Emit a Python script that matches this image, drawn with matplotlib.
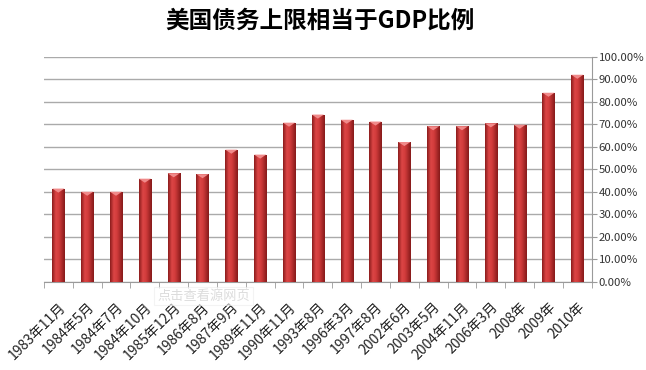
import numpy as np
import matplotlib; matplotlib.use("Agg")
import matplotlib.pyplot as plt
from matplotlib.colors import LinearSegmentedColormap
from matplotlib.ticker import FuncFormatter, MultipleLocator

plt.rcParams['font.family'] = ['Noto Sans CJK SC', 'DejaVu Sans']

# ---- data
dates = ["1983年11月", "1984年5月", "1984年7月", "1984年10月", "1985年12月",
         "1986年8月", "1987年9月", "1989年11月", "1990年11月", "1993年8月",
         "1996年3月", "1997年8月", "2002年6月", "2003年5月", "2004年11月",
         "2006年3月", "2008年", "2009年", "2010年"]
ratio = [41.5, 40.1, 40.1, 45.9, 48.3, 47.9, 58.8, 56.6, 70.8, 74.4,
         72.1, 71.3, 62.2, 69.2, 69.2, 70.5, 69.9, 84.1, 92.1]
title = "美国债务上限相当于GDP比例"

# cylinder-ish shading across each bar
shade = LinearSegmentedColormap.from_list(
    "bar", [(0, "#8c1c1c"), (0.3, "#dc4646"), (0.55, "#d13b3b"), (1, "#861a1a")])
grad = np.linspace(0, 1, 64)[None, :]

fig = plt.figure(figsize=(6.46, 3.70), dpi=100)
ax = fig.add_axes([0.068, 0.238, 0.848, 0.608])
x = np.arange(len(dates)); W = 0.42
bars = ax.bar(x, ratio, width=W, color="#b82c2c", zorder=2, linewidth=0)
for b in bars:
    x0, h = b.get_x(), b.get_height()
    im = ax.imshow(grad, extent=[x0, x0 + W, 0, h], aspect="auto", cmap=shade, zorder=3)
    im.set_clip_path(b)
    # light bevel on the top
    ax.fill([x0, x0 + W, x0 + W / 2], [h, h, h - 1.8], color="#f08a8a", zorder=4, lw=0)

ax.set_xlim(-0.5, len(dates) - 0.5); ax.set_ylim(0, 100)
ax.yaxis.set_major_locator(MultipleLocator(10))
ax.yaxis.set_major_formatter(FuncFormatter(lambda v, _: f"{v:.2f}%"))
ax.yaxis.tick_right()
ax.grid(axis="y", color="#aaaaaa", lw=1, zorder=1)
for s in ("top", "left"): ax.spines[s].set_visible(False)
for s in ("bottom", "right"): ax.spines[s].set_color("#9a9a9a")
ax.tick_params(axis="y", length=3.5, color="#9a9a9a", labelsize=8.2, labelcolor="#333333", pad=1.5)
ax.set_xticks(x)
ax.set_xticklabels(dates, rotation=45, ha="right", va="top", rotation_mode="anchor",
                   fontsize=10, color="#222222")
ax.tick_params(axis="x", length=0, pad=13)
ax.set_xticks(np.arange(len(dates) + 1) - 0.5, minor=True)
ax.tick_params(axis="x", which="minor", length=4, color="#9a9a9a")

fig.text(0.495, 0.945, title, ha="center", va="center", fontsize=17, fontweight="bold")
# faint watermark box from the source page
fig.text(0.315, 0.2, "点击查看源网页", ha="center", va="center", fontsize=9.5, color="#dcdcdc",
         bbox=dict(fc="white", ec="#ececec", lw=0.8, pad=2, alpha=0.6), zorder=5)

fig.savefig("out.png", dpi=100)
